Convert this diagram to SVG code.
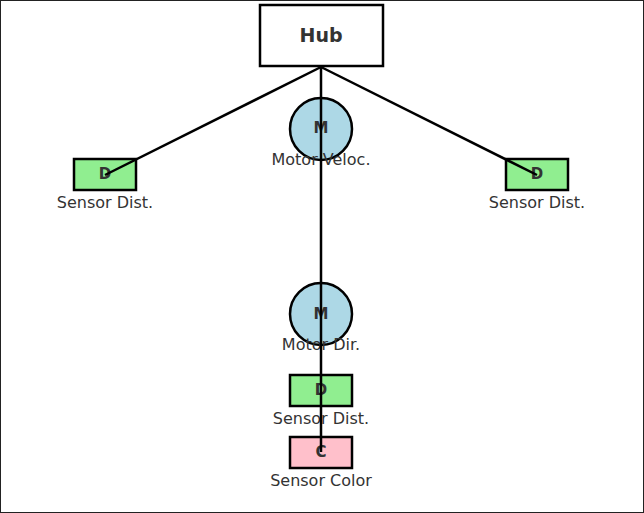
<svg xmlns="http://www.w3.org/2000/svg" width="644" height="513" viewBox="0 0 644 513">
<style>
.bg{fill:#fff;stroke:#222;stroke-width:1}
.box{stroke:#000;stroke-width:2.5}
.lbl{font-family:"DejaVu Sans",sans-serif;font-size:16px;fill:#333;text-anchor:middle}
.ltr{font-family:"DejaVu Sans",sans-serif;font-size:15px;font-weight:bold;fill:#333;text-anchor:middle;dominant-baseline:central}
.edge{stroke:#000;stroke-width:2.5;fill:none}
.d{fill:#90ee90}.m{fill:#add8e6}.c{fill:#ffc0cb}
</style>
<rect class="bg" x="0.5" y="0.5" width="643" height="512"/>
<g id="hub">
<rect class="box" x="260" y="5" width="123" height="61" fill="#fff"/>
<text class="ltr" x="321" y="35" style="font-size:19px">Hub</text>
</g>
<g id="motor-veloc">
<circle class="box m" cx="321" cy="129" r="31"/>
<text class="ltr" x="321" y="128">M</text>
<text class="lbl" x="321" y="165">Motor Veloc.</text>
</g>
<g id="sensor-dist-left">
<rect class="box d" x="74" y="159" width="62" height="31"/>
<text class="ltr" x="105" y="174">D</text>
<text class="lbl" x="105" y="208">Sensor Dist.</text>
</g>
<g id="sensor-dist-right">
<rect class="box d" x="506" y="159" width="62" height="31"/>
<text class="ltr" x="537" y="174">D</text>
<text class="lbl" x="537" y="208">Sensor Dist.</text>
</g>
<g id="motor-dir">
<circle class="box m" cx="321" cy="314" r="31"/>
<text class="ltr" x="321" y="314">M</text>
<text class="lbl" x="321" y="350">Motor Dir.</text>
</g>
<g id="sensor-dist-bottom">
<rect class="box d" x="290" y="375" width="62" height="31"/>
<text class="ltr" x="321" y="390">D</text>
<text class="lbl" x="321" y="424">Sensor Dist.</text>
</g>
<g id="sensor-color">
<rect class="box c" x="290" y="437" width="62" height="31"/>
<text class="ltr" x="321" y="452">C</text>
<text class="lbl" x="321" y="486">Sensor Color</text>
</g>
<g id="connectors">
<line class="edge" x1="321" y1="67" x2="105" y2="175"/>
<line class="edge" x1="321" y1="67" x2="537" y2="175"/>
<line class="edge" x1="321" y1="67" x2="321" y2="452"/>
</g>
</svg>
